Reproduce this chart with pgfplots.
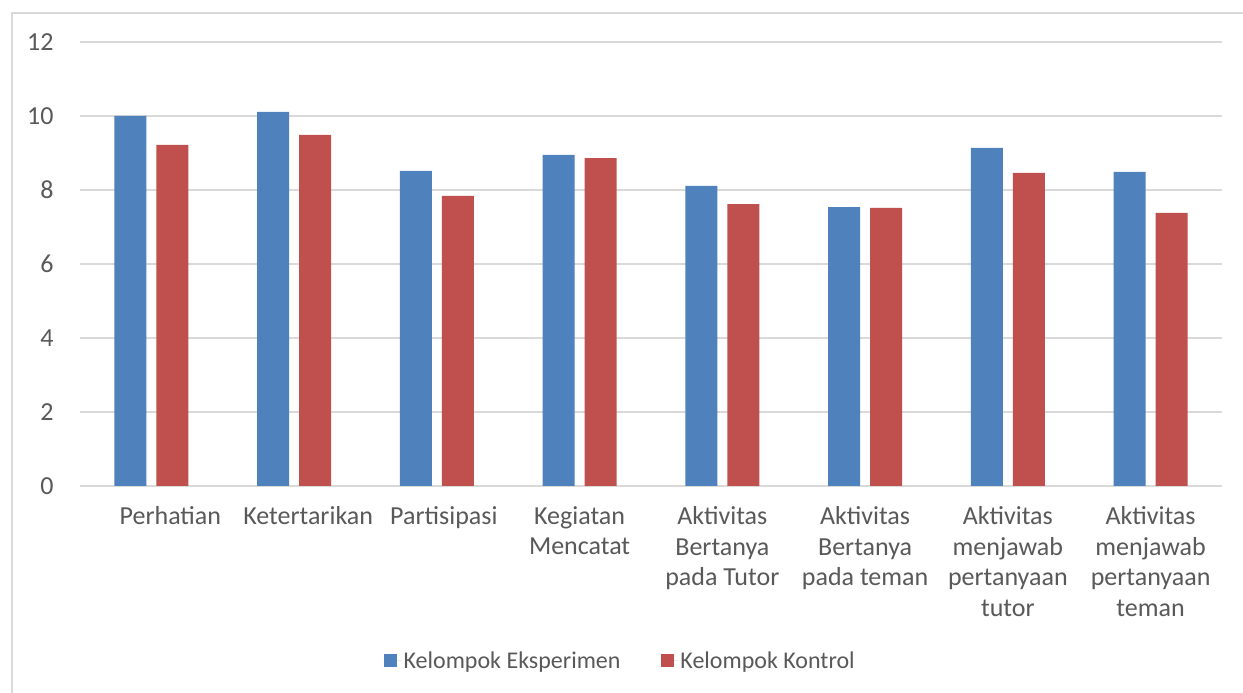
\documentclass[border=0pt]{standalone}
\usepackage{fontspec}
\setmainfont{Carlito}
\usepackage{pgfplots}
\pgfplotsset{compat=1.18}
\definecolor{gridc}{HTML}{D9D9D9}
\definecolor{txt}{HTML}{595959}
\definecolor{cblue}{HTML}{4F81BD}
\definecolor{cred}{HTML}{C0504D}
\begin{document}
\begin{tikzpicture}
\useasboundingbox (0,0) rectangle (1243pt,693pt);
\fill[white] (0,0) rectangle (1243pt,693pt);
\draw[gridc, line width=1.5pt] (12pt,0pt) -- (12pt,680pt) -- (1243pt,680pt);
\begin{axis}[
  at={(80pt,207pt)}, anchor=south west,
  scale only axis, width=1142pt, height=444pt,
  xmin=-0.5, xmax=7.5, ymin=0, ymax=12,
  ytick={0,2,...,12},
  xtick={0,...,7},
  xticklabels={\hspace{38pt}Perhatian, \hspace{28pt}Ketertarikan, \hspace{14pt}Partisipasi, Kegiatan\\Mencatat, Aktivitas\\Bertanya\\pada Tutor, Aktivitas\\Bertanya\\pada teman, Aktivitas\\menjawab\\pertanyaan\\tutor, Aktivitas\\menjawab\\pertanyaan\\teman},
  major tick length=0pt,
  axis line style={draw=none},
  ymajorgrids, grid style={gridc, line width=1.5pt},
  /pgf/number format/assume math mode=true,
  tick label style={font=\fontsize{26}{30.5}\selectfont, text=txt},
  xticklabel style={align=flush center, text width=160pt, yshift=-17pt},
  yticklabel style={xshift=-23pt},
  ybar=10pt, bar width=32pt,
  legend style={at={(0.473,-0.394)}, anchor=center, draw=none, fill=none,
    legend columns=2, font=\fontsize{24}{28}\selectfont, text=txt,
    /tikz/every even column/.append style={column sep=38pt}},
  legend image code/.code={\fill[#1] (0pt,-6.5pt) rectangle (13pt,6.5pt); \path (0pt,0pt) -- (18pt,0pt);},
]
\addplot[fill=cblue, draw=none] coordinates {(0,10.00) (1,10.11) (2,8.52) (3,8.95) (4,8.11) (5,7.54) (6,9.14) (7,8.49)};
\addplot[fill=cred, draw=none] coordinates {(0,9.22) (1,9.49) (2,7.84) (3,8.86) (4,7.62) (5,7.52) (6,8.46) (7,7.38)};
\legend{Kelompok Eksperimen, Kelompok Kontrol}
\end{axis}
\end{tikzpicture}
\end{document}
